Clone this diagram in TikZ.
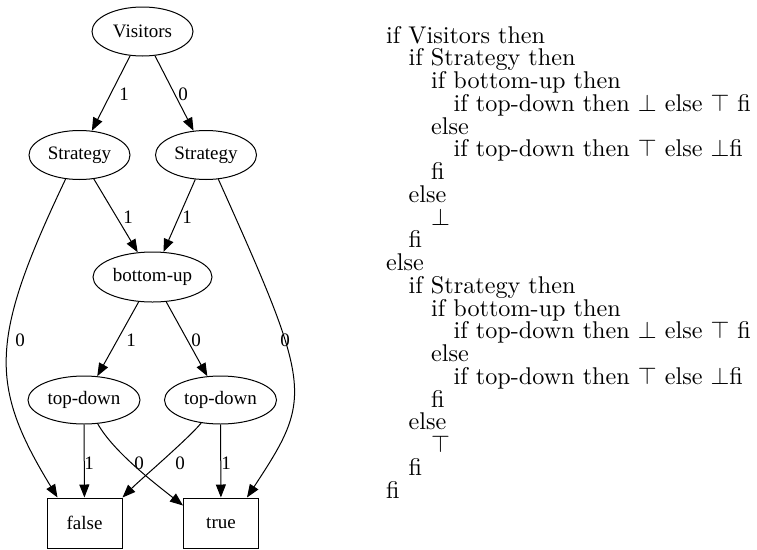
\documentclass[tikz,border=0pt]{standalone}
\usepackage{fontspec}
\usepackage{graphicx}
\newfontfamily\gvfont{Liberation Serif}
\usetikzlibrary{arrows.meta,shapes.geometric}
\newcommand{\codeln}[1]{\scalebox{2.42}{\fontsize{10}{12}\selectfont #1}}
\begin{document}
\begin{tikzpicture}[x=1pt,y=-1pt,
  gv/.style={font=\gvfont\fontsize{19}{22}\selectfont, inner sep=0pt, line width=1pt, draw},
  ell/.style={gv, ellipse, minimum width=101pt, minimum height=49pt},
  term/.style={gv, rectangle, minimum width=75pt, minimum height=50pt},
  edge/.style={line width=1pt, -{Triangle[length=13pt,width=10pt]}},
  lbl/.style={font=\gvfont\fontsize{19}{22}\selectfont, inner sep=0pt},
  code/.style={anchor=base west, inner sep=0pt}]
\useasboundingbox (0,0) rectangle (757,549);
% graph nodes
\node[ell] (v) at (142.5,31.5) {Visitors};
\node[ell] (sl) at (79.5,155) {Strategy};
\node[ell] (sr) at (206,155) {Strategy};
\node[ell, minimum width=119pt, minimum height=50pt] (bu) at (152.5,277) {bottom-up};
\node[ell, minimum width=112pt, minimum height=48pt] (tl) at (84,400) {top-down};
\node[ell, minimum width=112pt, minimum height=48pt] (trr) at (220.5,400) {top-down};
\node[term] (fa) at (84.5,523) {false};
\node[term] (tru) at (221,523) {true};
% edges
\draw[edge] (v) -- (sl) node[lbl] at (124,94) {1};
\draw[edge] (v) -- (sr) node[lbl] at (183,94) {0};
\draw[edge] (sl) -- (bu) node[lbl] at (128,217) {1};
\draw[edge] (sr) -- (bu) node[lbl] at (187,217) {1};
\draw[edge] (sl.240) .. controls (-11,340) and (-11,385) .. ([xshift=11pt]fa.north west) node[lbl] at (20,340) {0};
\draw[edge] (sr.-63) .. controls (313,390) and (313,397) .. ([xshift=-12pt]tru.north east) node[lbl] at (285,340) {0};
\draw[edge] (bu) -- (tl) node[lbl] at (131,340) {1};
\draw[edge] (bu) -- (trr) node[lbl] at (196,340) {0};
\draw[edge] (tl) -- (fa) node[lbl] at (89,463) {1};
\draw[edge] (tl.-60) .. controls (113,451) and (153,482) .. ([yshift=-8pt]tru.north west) node[lbl] at (139,463) {0};
\draw[edge] (trr.230) .. controls (188,439) and (140,480) .. (fa.north east) node[lbl] at (180,463) {0};
\draw[edge] (trr) -- (tru) node[lbl] at (226,463) {1};
% code text
\node[code] (c1) at (386,43) {\codeln{if Visitors then}};
\node[code] (c2) at (408.5,65.75) {\codeln{if Strategy then}};
\node[code] (c3) at (431,88.5) {\codeln{if bottom-up then}};
\node[code] (c4) at (453.5,111.25) {\codeln{if top-down then $\bot$ else $\top$ fi}};
\node[code] (c5) at (431,134) {\codeln{else}};
\node[code] (c6) at (453.5,156.75) {\codeln{if top-down then $\top$ else $\bot$fi}};
\node[code] (c7) at (431,179.5) {\codeln{fi}};
\node[code] (c8) at (408.5,202.25) {\codeln{else}};
\node[code] (c9) at (431,225) {\codeln{$\bot$}};
\node[code] (c10) at (408.5,247.75) {\codeln{fi}};
\node[code] (c11) at (386,270.5) {\codeln{else}};
\node[code] (c12) at (408.5,293.25) {\codeln{if Strategy then}};
\node[code] (c13) at (431,316) {\codeln{if bottom-up then}};
\node[code] (c14) at (453.5,338.75) {\codeln{if top-down then $\bot$ else $\top$ fi}};
\node[code] (c15) at (431,361.5) {\codeln{else}};
\node[code] (c16) at (453.5,384.25) {\codeln{if top-down then $\top$ else $\bot$fi}};
\node[code] (c17) at (431,407) {\codeln{fi}};
\node[code] (c18) at (408.5,429.75) {\codeln{else}};
\node[code] (c19) at (431,452.5) {\codeln{$\top$}};
\node[code] (c20) at (408.5,475.25) {\codeln{fi}};
\node[code] (c21) at (386,498) {\codeln{fi}};
\end{tikzpicture}
\end{document}
